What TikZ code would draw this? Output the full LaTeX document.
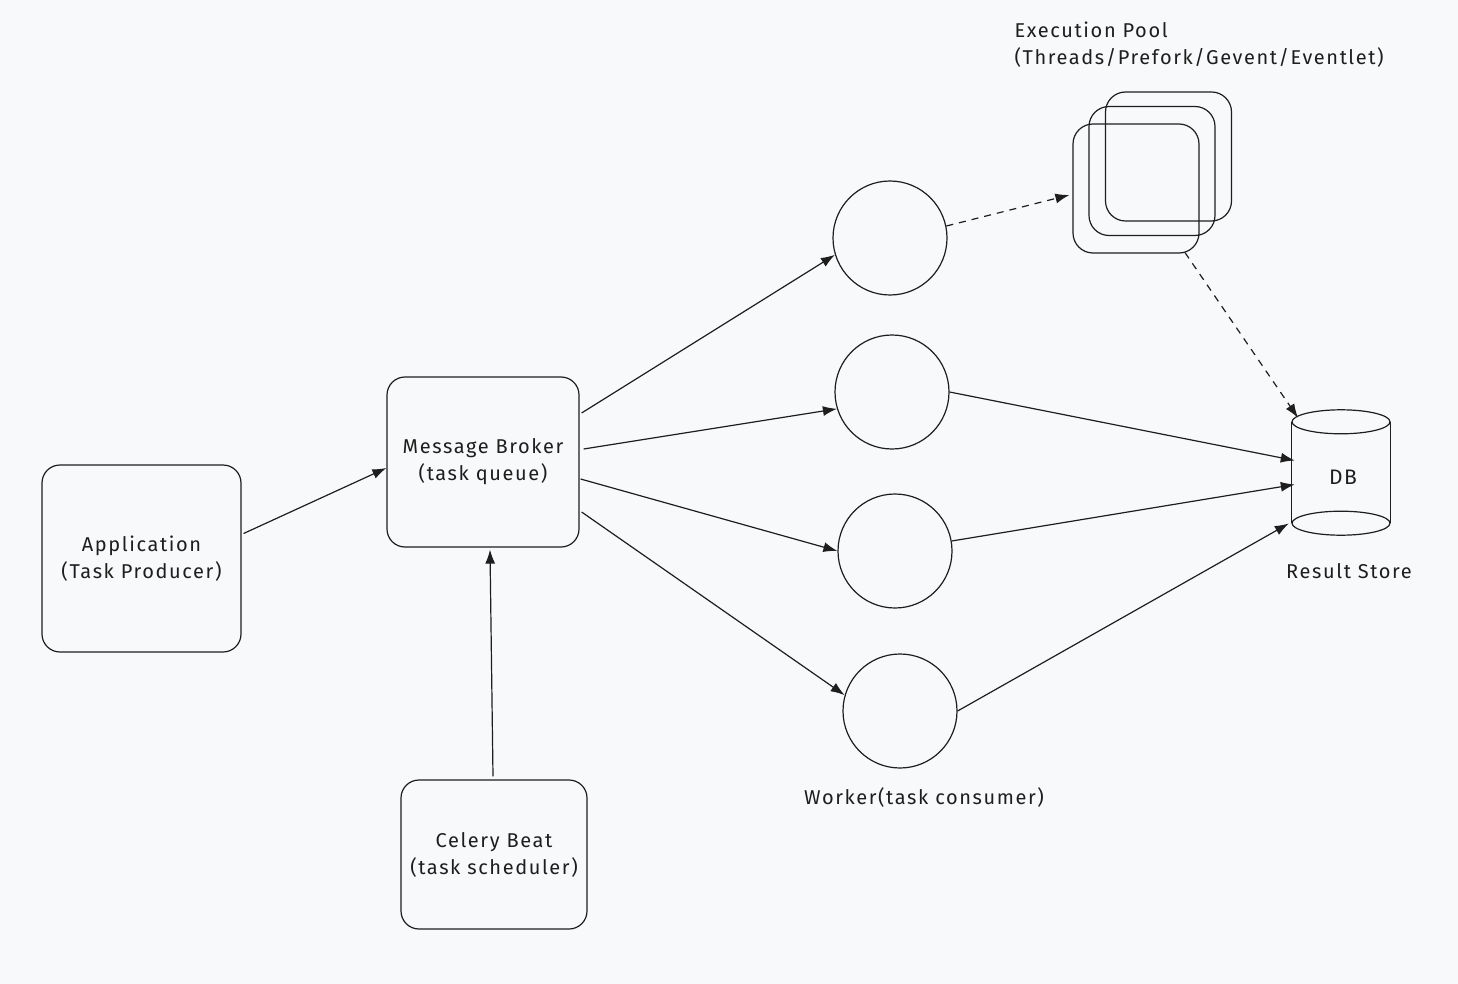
\documentclass[tikz,border=0pt]{standalone}
\usepackage{fontspec}
\setmainfont[LetterSpace=8]{Fira Sans}
\usetikzlibrary{calc,arrows.meta}
\definecolor{bg}{HTML}{F8F9FA}
\definecolor{ink}{HTML}{1E1E1E}
\tikzset{
  every node/.style={font=\fontsize{20}{27}\selectfont, text=ink},
  box/.style={draw=ink, line width=1.2pt, rounded corners=18pt, align=center, inner sep=0pt},
  worker/.style={draw=ink, line width=1.2pt, circle, minimum size=114pt, inner sep=0pt},
  poolbox/.style={draw=ink, line width=1.2pt, rounded corners=20pt, minimum width=126pt, minimum height=129pt, inner sep=0pt},
  conn/.style={draw=ink, line width=1.2pt, -{Latex[length=14pt,width=10pt]}},
  dconn/.style={conn, dash pattern=on 7pt off 6pt},
}
\begin{document}
\begin{tikzpicture}[x=1pt, y=-1pt]
\fill[bg] (0,0) rectangle (1458,984);
\useasboundingbox (0,0) rectangle (1458,984);

% boxes
\node[box, minimum width=199pt, minimum height=187pt] (app) at (141.5,558.5) {Application\\(Task Producer)};
\node[box, minimum width=192pt, minimum height=170pt] (broker) at (483,462) {Message Broker\\(task queue)};
\node[box, minimum width=186pt, minimum height=149pt] (beat) at (494,854.5) {Celery Beat\\(task scheduler)};

% workers
\node[worker] (w1) at (890,238) {};
\node[worker] (w2) at (892,392) {};
\node[worker] (w3) at (895,551) {};
\node[worker] (w4) at (900,711) {};
\node (wlabel) at (924,797) {Worker(task consumer)};

% execution pool
\node[poolbox] (pool3) at (1168.5,156.5) {};
\node[poolbox] (pool2) at (1152,171) {};
\node[poolbox] (pool1) at (1136,188.5) {};
\node[align=left, anchor=north west] (poollabel) at (1011,18) {Execution Pool\\(Threads/Prefork/Gevent/Eventlet)};

% DB cylinder
\node[minimum width=98pt, minimum height=125pt, inner sep=0pt] (db) at (1341,472.5) {};
\node[font=\fontsize{21}{27}\selectfont] (dbtext) at ($(db)+(2,5)$) {DB};
\draw[ink, line width=1.2pt] ($(db.north west)+(0,12)$) -- ($(db.south west)+(0,-12)$);
\draw[ink, line width=1.2pt] ($(db.north east)+(0,12)$) -- ($(db.south east)+(0,-12)$);
\draw[ink, line width=1.2pt] ($(db.north)+(0,12)$) ellipse [x radius=49pt, y radius=12pt];
\draw[ink, line width=1.2pt] ($(db.south)+(0,-12)$) ellipse [x radius=49pt, y radius=12pt];
\node (dblabel) at (1349,571) {Result Store};

% connectors
\draw[conn] ($(app.east)+(2,-25)$) -- ($(broker.west)+(0,6)$);
\draw[conn] ($(beat.north)+(-1,-3)$) -- ($(broker.south)+(7,2)$);
\draw[conn] ($(broker.east)+(2,-49)$) -- (w1.197);
\draw[conn] ($(broker.east)+(4,-13)$) -- (w2.197);
\draw[conn] ($(broker.east)+(1,17)$) -- (w3.180);
\draw[conn] ($(broker.east)+(2,50)$) -- (w4.164);
\draw[dconn] (w1.12) -- ($(pool1.west)+(-3,6.5)$);
\draw[dconn] ($(pool1.south)+(49,-1)$) -- ($(db.north)+(-43,8)$);
\draw[conn] (w2.0) -- ($(db.west)+(3,-12)$);
\draw[conn] (w3.10) -- ($(db.west)+(3,12)$);
\draw[conn] (w4.0) -- ($(db.west)+(-3,51)$);
\end{tikzpicture}
\end{document}
